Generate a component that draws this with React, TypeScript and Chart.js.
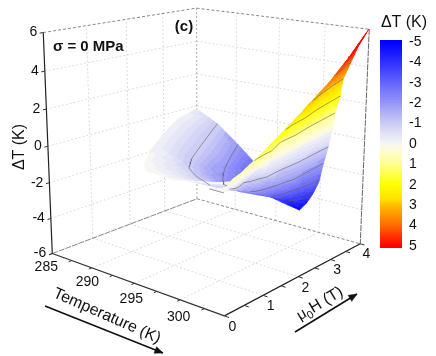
import React, { useEffect, useRef } from "react";
import { Chart, registerables } from "chart.js";

Chart.register(...registerables);

// ---- axes of the 3D box -------------------------------------------------
const T_MIN = 285;
const T_MAX = 304.5;
const H_MAX = 4;
const Z_MIN = -6;
const Z_MAX = 6;
const T_TICKS = [285, 290, 295, 300];
const T_MINOR = [285, 287.5, 290, 292.5, 295, 297.5, 300, 302.5];
const H_TICKS = [0, 1, 2, 3, 4];
const H_MINOR = [0, 0.5, 1, 1.5, 2, 2.5, 3, 3.5, 4];
const Z_TICKS = [-6, -4, -2, 0, 2, 4, 6];
const BAR_TICKS = [-5, -4, -3, -2, -1, 0, 1, 2, 3, 4, 5];

// ---- surface, rear lobe: kelvin above 285, field, deltaT ------------------
const lobeT = [
  [0, 2.4, 4.8, 7.1, 9.5, 12.2],
  [2.1, 5.2, 7.8, 9.6, 11.2, 12.8],
  [4.6, 7.9, 10, 11.5, 12.5, 13.5],
  [6, 9.6, 11, 12.5, 13.8, 15],
  [7.3, 10.5, 12, 14, 15, 16],
  [9.7, 11.5, 13, 14.5, 16.5, 18.2],
  [11, 12.5, 14, 15.5, 17, 17.9],
];
const lobeH = [
  [4, 4, 4, 4, 4, 4],
  [3, 3, 3, 3, 3, 3],
  [2, 2, 2, 2, 2, 2],
  [1.5, 1.5, 1.5, 1.5, 1.5, 1.5],
  [1, 1, 1, 1, 1, 1],
  [0.25, 0.25, 0.25, 0.3, 0.5, 0.7],
  [0, 0, 0, 0.15, 0.3, 0.5],
];
const lobeZ = [
  [-0.35, -1, -2, -3, -4, -5],
  [-0.08, -1, -2, -2.6, -3, -3.3],
  [-0.1, -1, -1.7, -2, -2.1, -2.15],
  [-0.05, -1, -1.25, -1.4, -1.48, -1.5],
  [-0.05, -0.55, -0.8, -1, -1, -1],
  [-0.03, -0.12, -0.2, -0.25, -0.2, -0.1],
  [0, -0.02, -0.05, -0.02, -0.05, -0.05],
];

// ---- surface, front sheet -------------------------------------------------
const sheetH = [4, 3.5, 3, 2.5, 2, 1.5, 1, 0.5, 0.25, 0];
const sheetT = [
  [12.2, 13, 13.7, 14.4, 14.8, 15.3, 15.75, 16, 16.5, 16.8, 17.6, 18.4, 19.5],
  [12.4, 13.2, 13.9, 14.6, 15.15, 15.65, 16.1, 16.5, 17.15, 17.6, 18.7, 19.1, 19.5],
  [12.8, 13.5, 14.1, 14.8, 15.5, 16, 16.45, 17, 17.8, 18.5, 18.9, 19.2, 19.5],
  [13.4, 14, 14.5, 14.9, 15.3, 16.1, 16.85, 17.6, 18.6, 19.4, 19.43, 19.47, 19.5],
  [13.5, 14.2, 14.8, 15.3, 15.8, 16.4, 17.1, 17.9, 19.1, 19.3, 19.4, 19.45, 19.5],
  [15, 15.4, 15.8, 16.2, 16.6, 17, 17.5, 18.9, 19.1, 19.25, 19.35, 19.45, 19.5],
  [16, 16.7, 17.1, 17.4, 17.6, 17.8, 18, 18.9, 19.1, 19.25, 19.35, 19.45, 19.5],
  [17.6, 18.1, 18.3, 18.4, 18.5, 18.6, 18.8, 19, 19.1, 19.2, 19.3, 19.4, 19.5],
  [18.2, 18.4, 18.5, 18.6, 18.7, 18.8, 18.9, 19, 19.1, 19.2, 19.3, 19.4, 19.5],
  [17.9, 18.05, 18.2, 18.35, 18.5, 18.65, 18.8, 18.95, 19.1, 19.2, 19.3, 19.4, 19.5],
];
const sheetZ = [
  [-5, -4.5, -3.9, -3.1, -2.1, -1.1, 0, 1, 2, 3, 4, 5, 6],
  [-3.95, -3.8, -3.4, -2.85, -2.05, -1.05, 0, 1, 2, 3, 4, 4.4, 4.8],
  [-3.3, -3.25, -3, -2.6, -2, -1, 0, 1, 2, 3, 3.3, 3.55, 3.8],
  [-2.65, -2.62, -2.5, -2.3, -2, -1, 0, 1, 2, 2.95, 2.98, 3.02, 3.05],
  [-2.05, -2.03, -1.98, -1.75, -1.35, -1, 0, 1, 2, 2.15, 2.25, 2.3, 2.35],
  [-1.45, -1.4, -1, -0.8, -0.55, -0.3, 0, 1, 1.2, 1.4, 1.55, 1.68, 1.72],
  [-0.95, -0.8, -0.6, -0.45, -0.3, -0.15, 0, 0.7, 0.85, 0.95, 1.05, 1.12, 1.15],
  [-0.4, -0.4, -0.3, -0.22, -0.15, -0.08, 0, 0.15, 0.25, 0.35, 0.45, 0.55, 0.65],
  [-0.1, -0.1, -0.08, -0.05, -0.02, 0, 0.02, 0.08, 0.15, 0.22, 0.3, 0.4, 0.5],
  [0, 0, 0, 0, 0, 0, 0, 0, 0, 0, 0, 0, 0],
];
const lobeContours = [-1, -2];
const sheetContours = [-4, -3, -2, -1, 1, 2, 3, 4];

// ---- colour scale ---------------------------------------------------------
const cmapLevels = [-5, -4, -3, -2, -1, -0.2, 0, 0.4, 1, 2, 2.7, 3, 4, 5];
const cmapColors = [
  [0, 0, 255], [48, 48, 255], [100, 100, 252], [150, 150, 248], [205, 205, 245], [238, 238, 248],
  [246, 246, 244], [255, 252, 205], [255, 255, 140], [255, 255, 0], [255, 225, 0], [255, 190, 0],
  [255, 105, 0], [255, 0, 0],
];
const BAND = 0.2;
const BAR_STEP = 0.1;

function colorAt(z: number) {
  const q = Math.max(-5, Math.min(5, z));
  let k = 0;
  while (k < cmapLevels.length - 2 && q > cmapLevels[k + 1]) k++;
  const f = (q - cmapLevels[k]) / (cmapLevels[k + 1] - cmapLevels[k]);
  const c = cmapColors[k].map((v, n) => Math.round(v + (cmapColors[k + 1][n] - v) * f));
  return `rgb(${c[0]},${c[1]},${c[2]})`;
}
const bandColor = (z: number) => colorAt(Math.round(z / BAND) * BAND);

// ---- camera: a projective map fitted to the seven visible box corners ------
const boxCorners = [
  [0, 0, 0, 52, 253],
  [1, 0, 0, 225, 316],
  [1, 1, 0, 360, 244],
  [0, 1, 0, 197, 199],
  [0, 0, 1, 43, 33],
  [0, 1, 1, 197, 8],
  [1, 1, 1, 369, 29],
];
const FRONT_TOP = [223, 70];

function fitCamera() {
  const A: number[][] = [];
  const b: number[] = [];
  for (const [u, v, w, X, Y] of boxCorners) {
    A.push([1, u, v, w, 0, 0, 0, 0, -X * u, -X * v, -X * w]);
    b.push(X);
    A.push([0, 0, 0, 0, 1, u, v, w, -Y * u, -Y * v, -Y * w]);
    b.push(Y);
  }
  const n = 11;
  const M = Array.from({ length: n }, (_, r) => {
    const row = new Array(n + 1).fill(0);
    for (let c = 0; c < n; c++) for (let k = 0; k < A.length; k++) row[c] += A[k][r] * A[k][c];
    for (let k = 0; k < A.length; k++) row[n] += A[k][r] * b[k];
    return row;
  });
  for (let c = 0; c < n; c++) {
    let p = c;
    for (let r = c + 1; r < n; r++) if (Math.abs(M[r][c]) > Math.abs(M[p][c])) p = r;
    [M[c], M[p]] = [M[p], M[c]];
    for (let r = 0; r < n; r++) {
      if (r === c) continue;
      const f = M[r][c] / M[c][c];
      for (let k = c; k <= n; k++) M[r][k] -= f * M[c][k];
    }
  }
  return M.map((row, i) => row[n] / row[i]);
}
const cam = fitCamera();

function project(T: number, H: number, Z: number) {
  const u = (T - T_MIN) / (T_MAX - T_MIN);
  const v = H / H_MAX;
  const w = (Z - Z_MIN) / (Z_MAX - Z_MIN);
  const d = 1 + cam[8] * u + cam[9] * v + cam[10] * w;
  return {
    x: (cam[0] + cam[1] * u + cam[2] * v + cam[3] * w) / d,
    y: (cam[4] + cam[5] * u + cam[6] * v + cam[7] * w) / d,
  };
}

// the surface is read in box coordinates: a trilinear map over the same corners
const cornerOf = (u: number, v: number, w: number) => {
  const c = boxCorners.find((k) => k[0] === u && k[1] === v && k[2] === w);
  return c ? [c[3], c[4]] : FRONT_TOP;
};
function surfacePoint(T: number, H: number, Z: number) {
  const u = (T - T_MIN) / (T_MAX - T_MIN);
  const v = H / H_MAX;
  const w = (Z - Z_MIN) / (Z_MAX - Z_MIN);
  let x = 0;
  let y = 0;
  for (const a of [0, 1])
    for (const b of [0, 1])
      for (const c of [0, 1]) {
        const k = (a ? u : 1 - u) * (b ? v : 1 - v) * (c ? w : 1 - w);
        const p = cornerOf(a, b, c);
        x += k * p[0];
        y += k * p[1];
      }
  return { x, y };
}

// ---- dataset helpers --------------------------------------------------------
type P = { x: number; y: number };
const layers: any[] = [];

function stroke(data: P[], color: string, width = 1, dash: number[] = []) {
  layers.push({ data, borderColor: color, borderWidth: width, borderDash: dash, fill: false, tension: 0, pointRadius: 0 });
}
function poly(data: P[], color: string, seam = 0.7, yAxisID = "y") {
  layers.push({
    data: [...data, data[0]],
    borderColor: color,
    backgroundColor: color,
    borderWidth: seam,
    fill: "shape",
    tension: 0,
    pointRadius: 0,
    yAxisID,
  });
}
function box3(a: number[], b: number[], color: string, width = 1, dash: number[] = []) {
  stroke([project(a[0], a[1], a[2]), project(b[0], b[1], b[2])], color, width, dash);
}

// bilinear reading of a typed table, for shading a cell
function nodeAt(tT: number[][], tH: number[][], tZ: number[][], r: number, c: number) {
  const r0 = Math.min(Math.floor(r), tT.length - 2);
  const c0 = Math.min(Math.floor(c), tT[0].length - 2);
  const fr = r - r0;
  const fc = c - c0;
  const mix = (t: number[][]) =>
    t[r0][c0] * (1 - fr) * (1 - fc) + t[r0][c0 + 1] * (1 - fr) * fc + t[r0 + 1][c0] * fr * (1 - fc) + t[r0 + 1][c0 + 1] * fr * fc;
  return { T: T_MIN + mix(tT), H: mix(tH), Z: mix(tZ) };
}

function shade(tT: number[][], tH: number[][], tZ: number[][], sub: number) {
  for (let r = 0; r < tT.length - 1; r++) {
    for (let c = 0; c < tT[0].length - 1; c++) {
      for (let a = 0; a < sub; a++) {
        for (let b = 0; b < sub; b++) {
          const corners = [
            [r + a / sub, c + b / sub],
            [r + a / sub, c + (b + 1) / sub],
            [r + (a + 1) / sub, c + (b + 1) / sub],
            [r + (a + 1) / sub, c + b / sub],
          ].map(([i, j]) => nodeAt(tT, tH, tZ, i, j));
          const z = corners.reduce((s, n) => s + n.Z, 0) / 4;
          poly(corners.map((n) => surfacePoint(n.T, n.H, n.Z)), bandColor(z));
        }
      }
    }
  }
}

function contour(tT: number[][], tH: number[][], tZ: number[][], level: number, rising: boolean) {
  const pts: P[] = [];
  const sub = 8;
  for (let r = 0; r <= (tT.length - 1) * sub; r++) {
    const row = r / sub;
    let prev = nodeAt(tT, tH, tZ, row, 0);
    const past = (z: number) => (rising ? z >= level : z <= level);
    if (past(prev.Z)) continue;
    for (let c = 1; c < tT[0].length; c++) {
      const cur = nodeAt(tT, tH, tZ, row, c);
      if (past(cur.Z)) {
        const f = (level - prev.Z) / (cur.Z - prev.Z);
        pts.push(surfacePoint(prev.T + (cur.T - prev.T) * f, prev.H + (cur.H - prev.H) * f, level));
        break;
      }
      prev = cur;
    }
  }
  if (pts.length > 1) stroke(pts, "rgba(95,95,100,0.85)", 0.7);
}

// ---- scene ------------------------------------------------------------------
const GRID = "#dcdcdc";
const GRID_DASH = [2, 2];

// walls and floor
for (const z of Z_TICKS.slice(1, -1)) {
  box3([T_MIN, 0, z], [T_MIN, H_MAX, z], GRID, 1, GRID_DASH);
  box3([T_MIN, H_MAX, z], [T_MAX, H_MAX, z], GRID, 1, GRID_DASH);
}
for (const h of H_TICKS.slice(1, -1)) {
  box3([T_MIN, h, Z_MIN], [T_MIN, h, Z_MAX], GRID, 1, GRID_DASH);
  box3([T_MIN, h, Z_MIN], [T_MAX, h, Z_MIN], GRID, 1, GRID_DASH);
}
for (const t of T_TICKS.slice(1)) {
  box3([t, H_MAX, Z_MIN], [t, H_MAX, Z_MAX], GRID, 1, GRID_DASH);
  box3([t, 0, Z_MIN], [t, H_MAX, Z_MIN], GRID, 1, GRID_DASH);
}
// box edges
box3([T_MIN, 0, Z_MAX], [T_MIN, H_MAX, Z_MAX], "#888", 1, [3, 2]);
box3([T_MIN, H_MAX, Z_MAX], [T_MAX, H_MAX, Z_MAX], "#888", 1, [3, 2]);
box3([T_MAX, H_MAX, Z_MAX], [T_MAX, H_MAX, Z_MIN], "#666", 1, [6, 1]);
box3([T_MIN, H_MAX, Z_MAX], [T_MIN, H_MAX, Z_MIN], "#aaa", 1, [2, 2]);
box3([T_MIN, H_MAX, Z_MIN], [T_MAX, H_MAX, Z_MIN], "#888", 1, [3, 2]);
box3([T_MIN, 0, Z_MIN], [T_MIN, H_MAX, Z_MIN], "#888", 1, [6, 1]);

// surface
shade(lobeT, lobeH, lobeZ, 5);
for (const l of lobeContours) contour(lobeT, lobeH, lobeZ, l, false);
const sheetHTable = sheetH.map((h) => sheetT[0].map(() => h));
shade(sheetT, sheetHTable, sheetZ, 4);
for (const l of sheetContours) contour(sheetT, sheetHTable, sheetZ, l, true);
stroke([surfacePoint(T_MIN + sheetT[9][0], 0, 0), surfacePoint(T_MAX, 0, 0)], "#9a9a9a", 1);

// axes and their ticks
box3([T_MIN, 0, Z_MIN], [T_MIN, 0, Z_MAX], "#222", 1.2);
box3([T_MIN, 0, Z_MIN], [T_MAX, 0, Z_MIN], "#333", 1.2);
box3([T_MAX, 0, Z_MIN], [T_MAX, H_MAX, Z_MIN], "#222", 1.2);
for (const t of T_MINOR) box3([t, 0, Z_MIN], [t, -0.07, Z_MIN], "#333", 1);
for (const h of H_MINOR) box3([T_MAX, h, Z_MIN], [T_MAX + 0.45, h, Z_MIN], "#333", 1);
for (const z of Z_TICKS) box3([T_MIN, 0, z], [T_MIN, -0.08, z], "#333", 1);

// colour bar: each step reaches under the next one, so no seams show
for (let i = 0; i < 102; i++) {
  const top = -5.1 + i * BAR_STEP;
  const bottom = Math.min(5.1, top + BAR_STEP * 2);
  poly(
    [
      { x: 380, y: top },
      { x: 402, y: top },
      { x: 402, y: bottom },
      { x: 380, y: bottom },
    ],
    colorAt(top + BAR_STEP / 2),
    0,
    "yBar"
  );
}

// direction arrows
function arrow(a: P, b: P) {
  stroke([a, b], "#111", 1.6);
  const ang = Math.atan2(b.y - a.y, b.x - a.x);
  const s = 9;
  const wing = (o: number) => ({ x: b.x - s * Math.cos(ang + o), y: b.y - s * Math.sin(ang + o) });
  poly([b, wing(0.4), wing(-0.4)], "#111", 0.5);
}
arrow({ x: 45, y: 306 }, { x: 163, y: 353 });
arrow({ x: 295, y: 332 }, { x: 357, y: 294 });

// ---- texts, anchored through the projection -------------------------------
const FONT = "'Liberation Sans', Arial, sans-serif";
type Txt = { s: string; at: P; size: number; bold?: boolean; rot?: number; align?: CanvasTextAlign; color?: string };
const texts: Txt[] = [];
const offset = (p: P, dx: number, dy: number) => ({ x: p.x + dx, y: p.y + dy });

for (const t of T_TICKS) {
  const k = t - T_MIN;
  texts.push({ s: String(t), at: offset(project(t, 0, Z_MIN), -6 + k * 0.3, 13.5 + k * 0.25), size: 14 });
}
for (const h of H_TICKS) {
  const p = project(T_MAX, h, Z_MIN);
  texts.push({ s: String(h), at: offset(p, 8 - h * 0.5, 11 - (h === 4 ? 1 : 0)), size: 14 });
}
for (const z of Z_TICKS) {
  const p = project(T_MIN, 0, z);
  texts.push({ s: String(z), at: offset(p, -6, 0), size: 14, align: "right" });
}
texts.push({ s: "ΔT (K)", at: { x: 20, y: 147 }, size: 16, rot: -90 });
texts.push({ s: "ΔT (K)", at: { x: 404, y: 23 }, size: 16 });
texts.push({ s: "σ = 0 MPa", at: { x: 53, y: 47 }, size: 15, bold: true, align: "left" });
texts.push({ s: "(c)", at: { x: 184, y: 27 }, size: 15, bold: true });
texts.push({ s: "Temperature (K)", at: { x: 107, y: 316 }, size: 16, rot: 23.8 });

const barLabels = {
  id: "labels",
  afterDatasetsDraw(chart: any) {
    const { ctx, scales } = chart;
    const px = (p: P) => ({ x: scales.x.getPixelForValue(p.x), y: scales.y.getPixelForValue(p.y) });
    ctx.save();
    ctx.fillStyle = "#111";
    ctx.textBaseline = "middle";
    for (const t of texts) {
      const a = px(t.at);
      ctx.save();
      ctx.translate(a.x, a.y);
      if (t.rot) ctx.rotate((t.rot * Math.PI) / 180);
      ctx.font = `${t.bold ? "bold " : ""}${t.size}px ${FONT}`;
      ctx.textAlign = t.align || "center";
      ctx.fillText(t.s, 0, 0);
      ctx.restore();
    }
    // colour bar labels, on their own scale
    ctx.font = `14px ${FONT}`;
    ctx.textAlign = "left";
    for (const b of BAR_TICKS) ctx.fillText(String(b), 409, scales.yBar.getPixelForValue(b));
    // field-axis title with its subscript
    const a = px({ x: 298, y: 317 });
    ctx.save();
    ctx.translate(a.x, a.y);
    ctx.rotate((-31 * Math.PI) / 180);
    ctx.textAlign = "left";
    ctx.font = `15px ${FONT}`;
    ctx.fillText("μ", 0, 0);
    let w = ctx.measureText("μ").width;
    ctx.font = `11px ${FONT}`;
    ctx.fillText("0", w, 5);
    w += ctx.measureText("0").width;
    ctx.font = `16px ${FONT}`;
    ctx.fillText("H (T)", w, 0);
    ctx.restore();
    ctx.restore();
  },
};

export default function App() {
  const ref = useRef<HTMLCanvasElement>(null);
  useEffect(() => {
    document.body.style.margin = "0";
    const chart = new Chart(ref.current as HTMLCanvasElement, {
      type: "line",
      data: { datasets: [...layers].reverse() },
      options: {
        animation: false,
        responsive: false,
        devicePixelRatio: 1,
        events: [],
        layout: { padding: 0 },
        elements: { point: { radius: 0 }, line: { borderJoinStyle: "round" } },
        scales: {
          x: { type: "linear", min: 0, max: 436, display: false },
          y: { type: "linear", min: 0, max: 356, reverse: true, display: false },
          yBar: { type: "linear", min: -7.06, max: 10.39, reverse: true, display: false },
        },
        plugins: { legend: { display: false }, tooltip: { enabled: false }, title: { display: false } },
      },
      plugins: [barLabels],
    } as any);
    return () => chart.destroy();
  }, []);
  return <canvas ref={ref} width={436} height={356} style={{ display: "block" }} />;
}
